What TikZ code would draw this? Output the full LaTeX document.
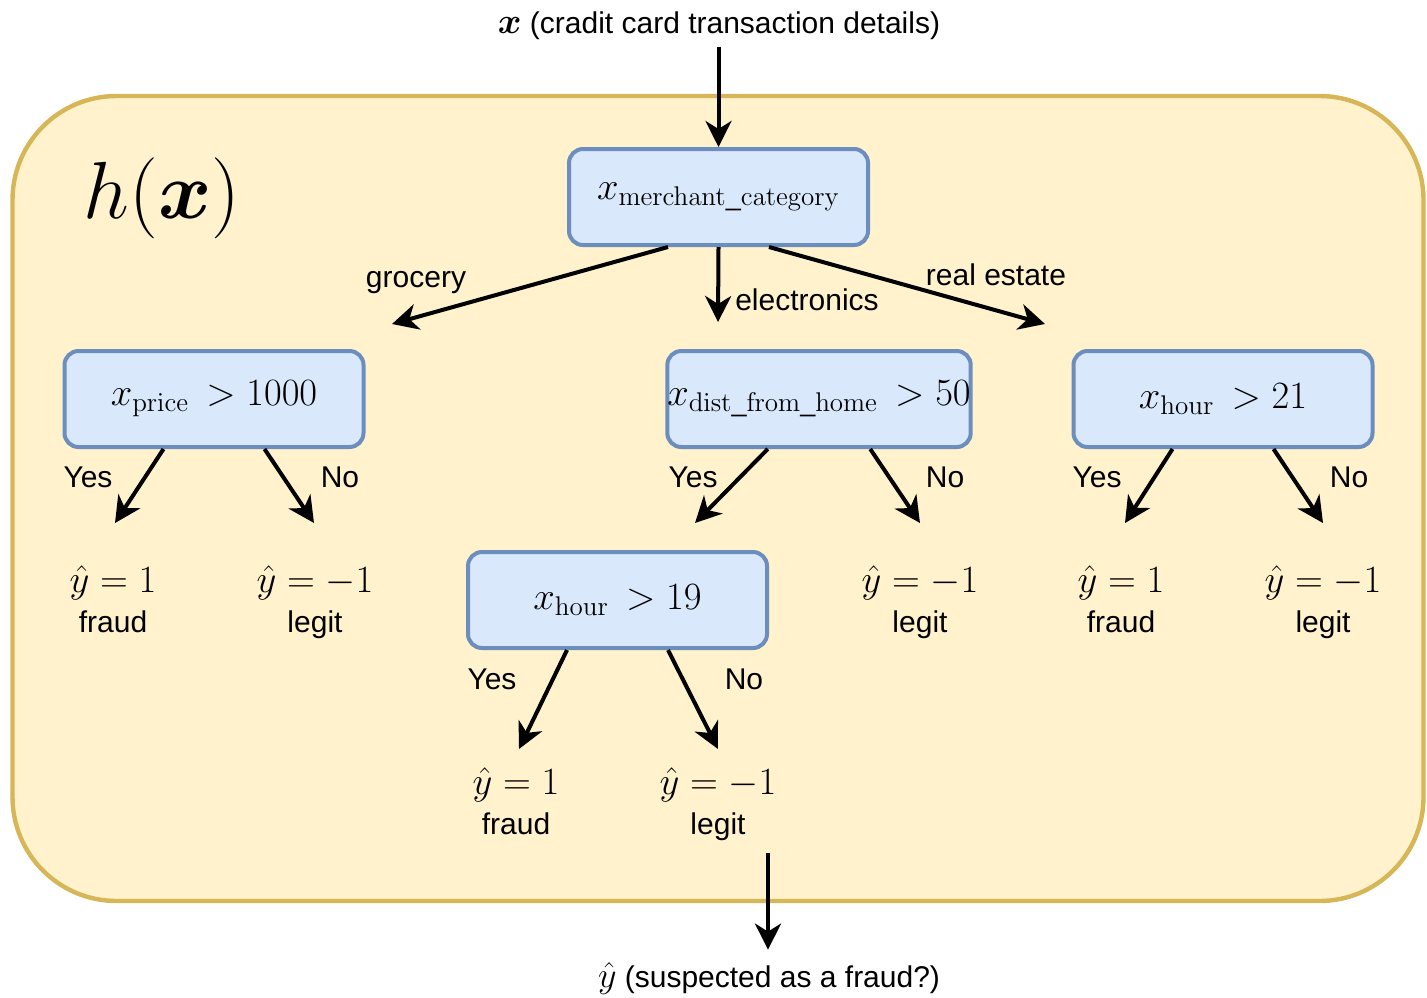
\RequirePackage{fix-cm}
\documentclass[tikz,border=0pt]{standalone}
\usepackage{amsmath}
\usepackage[no-math]{fontspec}
\setmainfont{Liberation Sans}
\usetikzlibrary{arrows.meta,calc}

\definecolor{panelfill}{HTML}{FFF2CC}
\definecolor{panelline}{HTML}{D6B656}
\definecolor{boxfill}{HTML}{DAE8FC}
\definecolor{boxline}{HTML}{6C8EBF}

\newcommand{\bigmath}[1]{{\fontsize{18}{20}\selectfont$#1$}}

\begin{document}
\begin{tikzpicture}[x=0.5pt,y=-0.5pt,
  panel/.style={draw=panelline, fill=panelfill, line width=2.2pt, rounded corners=52pt,
    minimum width=705.5pt, minimum height=402.5pt, inner sep=0pt},
  split/.style={draw=boxline, fill=boxfill, line width=2pt, rounded corners=7pt,
    minimum width=149.5pt, minimum height=48pt, inner sep=0pt,
    font=\fontsize{19.3}{22}\selectfont},
  lbl/.style={font=\fontsize{15}{18}\selectfont, inner sep=0pt, anchor=base},
  res/.style={font=\fontsize{19.3}{22}\selectfont, inner sep=0pt, anchor=base},
  link/.style={line width=2pt, -{Stealth[length=13pt,width=13pt,inset=4pt]}},
]
\useasboundingbox (0,0) rectangle (1427,997);

% model frame
\node[panel] (panel) at (718,498.5) {};
\node[inner sep=0pt, font=\fontsize{40.5}{44}\selectfont] (hx) at (162,198) {$h(\boldsymbol{x})$};

% input and output
\node[lbl] (in) at (719,33) {\bigmath{\boldsymbol{x}} (cradit card transaction details)};
\node[lbl] (out) at (769,987) {\bigmath{\hat{y}} (suspected as a fraud?)};
\coordinate (outstart) at (768,853);

% split nodes
\node[split] (N0) at (718.5,197) {$x_{\mathrm{merchant\_category}}$};
\node[split] (N1) at (214,399) {$x_{\mathrm{price}}\,>1000$};
\node[split] (N2) at (819,399) {$x_{\mathrm{dist\_from\_home}}\,>50$};
\node[split] (N3) at (1223,399) {$x_{\mathrm{hour}}\,>21$};
\node[split] (N4) at (617.5,600) {$x_{\mathrm{hour}}\,>19$};

% leaves
\node[res] (L1) at (113,592) {$\hat{y}=1$};
\node[lbl] (L1t) at (113,632) {fraud};
\node[res] (L2) at (315,592) {$\hat{y}=-1$};
\node[lbl] (L2t) at (315,632) {legit};
\node[res] (L3) at (920,592) {$\hat{y}=-1$};
\node[lbl] (L3t) at (920,632) {legit};
\node[res] (L4) at (1121,592) {$\hat{y}=1$};
\node[lbl] (L4t) at (1121,632) {fraud};
\node[res] (L5) at (1323,592) {$\hat{y}=-1$};
\node[lbl] (L5t) at (1323,632) {legit};
\node[res] (L6) at (516,794) {$\hat{y}=1$};
\node[lbl] (L6t) at (516,834) {fraud};
\node[res] (L7) at (718,794) {$\hat{y}=-1$};
\node[lbl] (L7t) at (718,834) {legit};

% arrow end points
\coordinate (e0a) at (392,324);
\coordinate (e0b) at (718,322);
\coordinate (e0c) at (1045,324);
\coordinate (e1a) at (115,523);
\coordinate (e1b) at (314,523);
\coordinate (e2a) at (695,523);
\coordinate (e2b) at (920,523);
\coordinate (e3a) at (1125,523);
\coordinate (e3b) at (1323,523);
\coordinate (e4a) at (519,749);
\coordinate (e4b) at (718,749);

% connectors
\draw[link, shorten <=3.5pt] (in.south -| N0.north) -- (N0.north);
\draw[link, shorten >=6pt] (outstart) -- (out.north -| outstart);

\draw[link] ($(N0.south west)!1/3!(N0.south east)$) -- (e0a);
\draw[link] (N0.south) -- (e0b);
\draw[link] ($(N0.south west)!2/3!(N0.south east)$) -- (e0c);

\foreach \n/\a/\b in {N1/e1a/e1b, N2/e2a/e2b, N3/e3a/e3b, N4/e4a/e4b}{
  \draw[link] ($(\n.south west)!1/3!(\n.south east)$) -- (\a);
  \draw[link] ($(\n.south west)!2/3!(\n.south east)$) -- (\b);
}

% branch labels
\node[lbl] (tg) at (416,287) {grocery};
\node[lbl] (te) at (807,310) {electronics};
\node[lbl] (tr) at (996,285) {real estate};
\node[lbl] (y1) at (88,487) {Yes};
\node[lbl] (n1) at (340,487) {No};
\node[lbl] (y2) at (693,487) {Yes};
\node[lbl] (n2) at (945,487) {No};
\node[lbl] (y3) at (1097,487) {Yes};
\node[lbl] (n3) at (1349,487) {No};
\node[lbl] (y4) at (492,689) {Yes};
\node[lbl] (n4) at (744,689) {No};
\end{tikzpicture}
\end{document}
